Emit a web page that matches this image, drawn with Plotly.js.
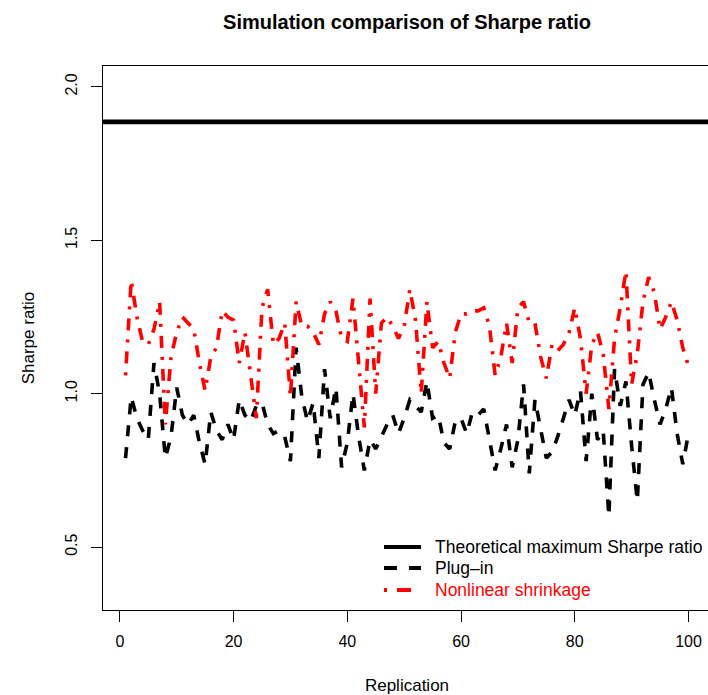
<!DOCTYPE html>
<html>
<head>
<meta charset="utf-8">
<script src="https://cdn.plot.ly/plotly-3.0.1.min.js"></script>
<style>
html,body{margin:0;padding:0;overflow:hidden;background:#fff;}
#chart{width:712px;height:695px;}
</style>
</head>
<body>
<div id="chart"></div>
<script>
var replication = [1,2,3,4,5,6,7,8,9,10,11,12,13,14,15,16,17,18,19,20,21,22,23,24,25,26,27,28,29,30,31,32,33,34,35,36,37,38,39,40,41,42,43,44,45,46,47,48,49,50,51,52,53,54,55,56,57,58,59,60,61,62,63,64,65,66,67,68,69,70,71,72,73,74,75,76,77,78,79,80,81,82,83,84,85,86,87,88,89,90,91,92,93,94,95,96,97,98,99,100];

var plugIn = [0.79,0.99,0.92,0.88,0.85,1.10,1.00,0.79,0.86,1.02,
              0.93,0.90,0.93,0.84,0.77,0.94,0.88,0.85,0.90,0.85,
              0.98,0.93,0.91,0.96,0.97,0.90,0.87,0.88,0.86,0.78,
              1.15,0.99,0.91,0.97,0.79,1.08,0.92,1.02,0.76,0.84,
              1.00,0.86,0.75,0.85,0.82,0.86,0.90,0.93,0.87,0.92,
              0.98,0.96,0.94,1.04,0.92,0.93,0.84,0.82,0.91,0.92,
              0.87,0.94,0.93,0.95,0.85,0.75,0.82,0.90,0.76,0.85,
              1.03,0.74,0.98,0.88,0.79,0.81,0.86,0.92,0.98,0.93,
              1.01,0.78,1.00,0.85,0.88,0.60,1.08,0.96,1.04,0.83,
              0.65,1.03,1.07,0.98,0.90,0.95,1.02,0.87,0.77,0.87];

var nonlinearShrinkage = [1.06,1.37,1.25,1.17,1.16,1.21,1.30,0.90,1.12,1.20,
                          1.25,1.23,1.21,1.10,1.01,1.12,1.15,1.27,1.25,1.24,
                          1.10,1.20,1.06,0.92,1.28,1.34,1.16,1.18,1.23,0.99,
                          1.30,1.22,1.22,1.20,1.16,1.26,1.30,1.27,1.18,1.17,
                          1.31,1.10,0.89,1.31,1.00,1.23,1.25,1.22,1.18,1.22,
                          1.34,1.24,1.00,1.30,1.15,1.17,1.10,1.05,1.20,1.26,
                          1.26,1.27,1.27,1.28,1.22,1.06,1.12,1.23,1.10,1.28,
                          1.30,1.23,1.23,1.12,1.05,1.16,1.14,1.16,1.20,1.28,
                          1.18,1.00,1.16,1.20,1.13,0.95,1.18,1.28,1.40,1.03,
                          1.13,1.30,1.38,1.33,1.21,1.25,1.30,1.24,1.15,1.09];

var theoreticalMax = 1.886;

var xTicks = [0,20,40,60,80,100];
var yTicks = [0.5,1.0,1.5,2.0];
var yTickText = ['0.5','1.0','1.5','2.0'];

var legendNames = ['Theoretical maximum Sharpe ratio','Plug\u2013in','Nonlinear shrinkage'];
var legendColors = ['#000000','#000000','#ff0000'];
var legendDashes = ['solid','13px,12px','3px,10px,14px,10px'];

var FONT = 'Liberation Sans, Arial, Helvetica, sans-serif';

var traces = [
  {x: replication, y: plugIn, type:'scatter', mode:'lines', name: legendNames[1],
   line:{color:'#000000', width:3.6, dash:'11px,11px'}, showlegend:false, hoverinfo:'skip'},
  {x: replication, y: nonlinearShrinkage, type:'scatter', mode:'lines', name: legendNames[2],
   line:{color:'#ff0000', width:3.6, dash:'3px,9px,12px,9px'}, showlegend:false, hoverinfo:'skip'}
];

var L = 103, T = 66, W = 608, H = 544;
function px(xp){ return (xp - L) / W; }
function py(yp){ return (T + H - yp) / H; }

var shapes = [
  {type:'line', xref:'paper', yref:'y', x0:0, x1:1, y0:theoreticalMax, y1:theoreticalMax,
   line:{color:'#000000', width:4.6}}
];
var annotations = [];
var legendRowsY = [547, 568, 590];
for (var i = 0; i < 3; i++) {
  shapes.push({type:'line', xref:'paper', yref:'paper',
    x0:px(384), x1:px(421), y0:py(legendRowsY[i]), y1:py(legendRowsY[i]),
    line:{color:legendColors[i], width:(i===0?3.8:4), dash:legendDashes[i]}});
  annotations.push({xref:'paper', yref:'paper', x:px(433), y:py(legendRowsY[i]),
    xanchor:'left', yanchor:'middle', showarrow:false, text:legendNames[i],
    font:{family:FONT, size:17.5, color:legendColors[i]}});
}

var layout = {
  width:712, height:695,
  margin:{l:L, r:712-L-W, t:T, b:695-T-H, pad:0},
  paper_bgcolor:'#ffffff', plot_bgcolor:'#ffffff',
  showlegend:false,
  title:{text:'<b>Simulation comparison of Sharpe ratio</b>', x:px(407), xref:'paper', xanchor:'center',
         y:1-22/695, yanchor:'middle', font:{family:FONT, size:20, color:'#000000'}},
  xaxis:{range:[-2.96,103.96], tickvals:xTicks, ticktext:xTicks.map(String),
         showgrid:false, zeroline:false, showline:true, mirror:true, linecolor:'#000000', linewidth:1,
         ticks:'outside', ticklen:11, tickwidth:1, tickcolor:'#000000', ticklabelstandoff:6,
         tickfont:{family:FONT, size:16, color:'#000000'},
         title:{text:'Replication', font:{family:FONT, size:17, color:'#000000'}, standoff:29}},
  yaxis:{range:[0.295,2.068], tickvals:yTicks, ticktext:yTickText, tickangle:-90,
         showgrid:false, zeroline:false, showline:true, mirror:true, linecolor:'#000000', linewidth:1,
         ticks:'outside', ticklen:11, tickwidth:1, tickcolor:'#000000', ticklabelstandoff:8,
         tickfont:{family:FONT, size:16, color:'#000000'},
         title:{text:'Sharpe ratio', font:{family:FONT, size:17, color:'#000000'}, standoff:23}},
  shapes:shapes,
  annotations:annotations
};

Plotly.newPlot('chart', traces, layout, {staticPlot:true, displayModeBar:false});
</script>
</body>
</html>
